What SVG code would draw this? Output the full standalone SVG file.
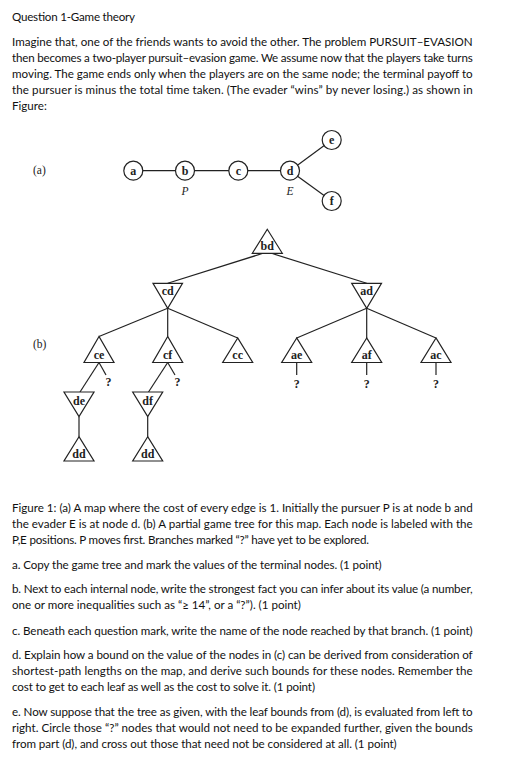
<svg xmlns="http://www.w3.org/2000/svg" width="509" height="770" viewBox="0 0 509 770">
<style>
.t{font-family:Lato,"Carlito","Liberation Sans",sans-serif;font-size:11.6px;fill:#111}
.n{fill:#fff;stroke:#222;stroke-width:1.2}
.e{stroke:#222;stroke-width:1.2;fill:none}
.l{font-family:"Liberation Serif","Times New Roman",serif;font-weight:bold;font-size:12px;fill:#222;text-anchor:middle}
.i{font-family:"Liberation Serif","Times New Roman",serif;font-style:italic;font-size:11.5px;fill:#222;text-anchor:middle}
.s{font-family:"Liberation Serif","Times New Roman",serif;font-size:11.5px;fill:#222}
</style>
<rect width="509" height="770" fill="#fff"/>
<g id="text-top">
<text class="t" x="12" y="21" textLength="123" lengthAdjust="spacing">Question 1-Game theory</text>
<text class="t" x="12" y="46" textLength="460.7" lengthAdjust="spacing">Imagine that,  one of the friends wants to avoid the other. The problem PURSUIT–EVASION</text>
<text class="t" x="12" y="62" textLength="460.7" lengthAdjust="spacing">then becomes a two-player pursuit–evasion game. We assume now that the players take turns</text>
<text class="t" x="12" y="78" textLength="460.7" lengthAdjust="spacing">moving. The game ends only when the players are on the same node; the terminal payoff to</text>
<text class="t" x="12" y="94" textLength="460.7" lengthAdjust="spacing">the pursuer is minus the total time taken. (The evader “wins” by never losing.) as shown in</text>
<text class="t" x="12" y="110">Figure:</text>
</g>
<g id="map">
<text class="s" x="33" y="174">(a)</text>
<g id="map-edges">
<line class="e" x1="133.3" y1="170.7" x2="290" y2="170.7"/>
<line class="e" x1="290" y1="170.7" x2="331.7" y2="140"/>
<line class="e" x1="290" y1="170.7" x2="331.7" y2="201"/>
</g>
<g id="map-a"><circle class="n" cx="133.3" cy="170.7" r="9.5"/><text class="l" x="133.3" y="174.8">a</text></g>
<g id="map-b"><circle class="n" cx="185" cy="170.7" r="9.5"/><text class="l" x="185" y="174.8">b</text><text class="i" x="185" y="195">P</text></g>
<g id="map-c"><circle class="n" cx="238.3" cy="170.7" r="9.5"/><text class="l" x="238.3" y="174.8">c</text></g>
<g id="map-d"><circle class="n" cx="290" cy="170.7" r="9.5"/><text class="l" x="290" y="174.8">d</text><text class="i" x="290" y="195">E</text></g>
<g id="map-e"><circle class="n" cx="331.7" cy="140" r="9.5"/><text class="l" x="331.7" y="144">e</text></g>
<g id="map-f"><circle class="n" cx="331.7" cy="201" r="9.5"/><text class="l" x="331.7" y="205">f</text></g>
</g>
<g id="tree">
<text class="s" x="33" y="348">(b)</text>
<g id="connectors">
<line class="e" x1="263" y1="253.3" x2="167.7" y2="283.3"/>
<line class="e" x1="271.5" y1="253.3" x2="366.7" y2="283.3"/>
<line class="e" x1="167.7" y1="308.3" x2="99" y2="336.5"/>
<line class="e" x1="167.7" y1="308.3" x2="167.7" y2="336.5"/>
<line class="e" x1="167.7" y1="308.3" x2="237.7" y2="338"/>
<line class="e" x1="366.7" y1="308.3" x2="296.7" y2="338"/>
<line class="e" x1="366.7" y1="308.3" x2="366.7" y2="338"/>
<line class="e" x1="366.7" y1="308.3" x2="436" y2="338"/>
<line class="e" x1="99" y1="362.5" x2="80" y2="392"/>
<line class="e" x1="99" y1="362.5" x2="106" y2="375"/>
<line class="e" x1="167.7" y1="362.5" x2="148.5" y2="392"/>
<line class="e" x1="167.7" y1="362.5" x2="175" y2="375"/>
<line class="e" x1="79" y1="416.5" x2="79" y2="436.7"/>
<line class="e" x1="147.7" y1="416.5" x2="147.7" y2="436.7"/>
<line class="e" x1="296.7" y1="362.5" x2="296.7" y2="375"/>
<line class="e" x1="366.7" y1="362.5" x2="366.7" y2="375"/>
<line class="e" x1="436" y1="362.5" x2="436" y2="375"/>
<text class="l" x="108.5" y="386">?</text>
<text class="l" x="177.5" y="386">?</text>
<text class="l" x="296.7" y="388">?</text>
<text class="l" x="366.7" y="388">?</text>
<text class="l" x="436" y="388">?</text>
</g>
<g id="node-bd"><polygon class="n" points="267.3,229.3 252.3,253.3 282.3,253.3"/><text class="l" x="267.3" y="250">bd</text></g>
<g id="node-cd"><polygon class="n" points="153,283.3 182.5,283.3 167.7,308.3"/><text class="l" x="167.7" y="295">cd</text></g>
<g id="node-ad"><polygon class="n" points="351.7,283.3 381.5,283.3 366.7,308.3"/><text class="l" x="366.7" y="295">ad</text></g>
<g id="node-ce"><polygon class="n" points="99,336.5 84,362.5 114,362.5"/><text class="l" x="99" y="359">ce</text></g>
<g id="node-cf"><polygon class="n" points="167.7,336.5 152.7,362.5 182.7,362.5"/><text class="l" x="167.7" y="359">cf</text></g>
<g id="node-cc"><polygon class="n" points="237.7,338 222.7,362.5 252.7,362.5"/><text class="l" x="237.7" y="359">cc</text></g>
<g id="node-ae"><polygon class="n" points="296.7,338 281.7,362.5 311.7,362.5"/><text class="l" x="296.7" y="359">ae</text></g>
<g id="node-af"><polygon class="n" points="366.7,338 351.7,362.5 381.7,362.5"/><text class="l" x="366.7" y="359">af</text></g>
<g id="node-ac"><polygon class="n" points="436,338 421,362.5 451,362.5"/><text class="l" x="436" y="359">ac</text></g>
<g id="node-de"><polygon class="n" points="64,392 94,392 79,416.5"/><text class="l" x="79" y="405">de</text></g>
<g id="node-df"><polygon class="n" points="132.7,392 162.7,392 147.7,416.5"/><text class="l" x="147.7" y="405">df</text></g>
<g id="node-dd1"><polygon class="n" points="79,436.7 64,461 94,461"/><text class="l" x="79" y="457.5">dd</text></g>
<g id="node-dd2"><polygon class="n" points="147.7,436.7 132.7,461 162.7,461"/><text class="l" x="147.7" y="457.5">dd</text></g>
</g>
<g id="text-bottom">
<text class="t" x="12" y="512" textLength="460.7" lengthAdjust="spacing">Figure 1: (a) A map where the cost of every edge is 1. Initially the pursuer P is at node b and</text>
<text class="t" x="12" y="528" textLength="460.7" lengthAdjust="spacing">the evader E is at node d. (b) A partial game tree for this map. Each node is labeled with the</text>
<text class="t" x="12" y="544" textLength="357" lengthAdjust="spacing">P,E positions. P moves first. Branches marked “?” have yet to be explored.</text>
<text class="t" x="12" y="569" textLength="369.7" lengthAdjust="spacing">a. Copy the game tree and mark the values of the terminal nodes. (1 point)</text>
<text class="t" x="12" y="593" textLength="460.7" lengthAdjust="spacing">b. Next to each internal node, write the strongest fact you can infer about its value (a number,</text>
<text class="t" x="12" y="609">one or more inequalities such as “≥ 14”, or a “?”). (1 point)</text>
<text class="t" x="12" y="635" textLength="460.7" lengthAdjust="spacing">c. Beneath each question mark, write the name of the node reached by that branch. (1 point)</text>
<text class="t" x="12" y="659" textLength="460.7" lengthAdjust="spacing">d. Explain how a bound on the value of the nodes in (c) can be derived from consideration of</text>
<text class="t" x="12" y="675" textLength="460.7" lengthAdjust="spacing">shortest-path lengths on the map, and derive such bounds for these nodes. Remember the</text>
<text class="t" x="12" y="691" textLength="303" lengthAdjust="spacing">cost to get to each leaf as well as the cost to solve it. (1 point)</text>
<text class="t" x="12" y="716" textLength="460.7" lengthAdjust="spacing">e. Now suppose that the tree as given, with the leaf bounds from (d), is evaluated from left to</text>
<text class="t" x="12" y="732" textLength="460.7" lengthAdjust="spacing">right. Circle those “?” nodes that would not need to be expanded further, given the bounds</text>
<text class="t" x="12" y="748" textLength="384.7" lengthAdjust="spacing">from part (d), and cross out those that need not be considered at all. (1 point)</text>
</g>
</svg>
